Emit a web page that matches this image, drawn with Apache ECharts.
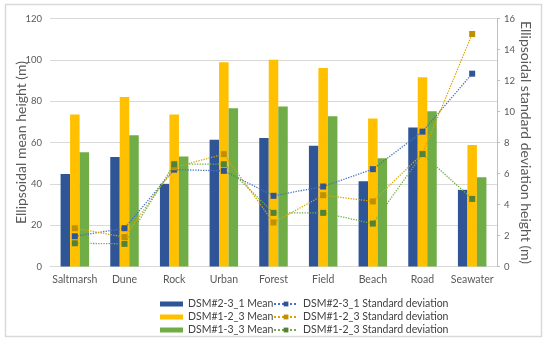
<!DOCTYPE html>
<html><head><meta charset="utf-8">
<script src="https://cdn.jsdelivr.net/npm/echarts@6/dist/echarts.min.js"></script>
<style>html,body{margin:0;padding:0;background:#fff}#c{width:550px;height:345px}</style>
</head><body><div id="c"></div>
<script>
const categories = ['Saltmarsh','Dune','Rock','Urban','Forest','Field','Beach','Road','Seawater'];
const meanA = [44.8, 53, 40, 61.3, 62.2, 58.4, 41.3, 67.2, 37.1];   // DSM#2-3_1 Mean
const meanB = [73.5, 82, 73.5, 98.8, 100, 96, 71.6, 91.6, 58.8];    // DSM#1-2_3 Mean
const meanC = [55.3, 63.5, 53.2, 76.6, 77.4, 72.7, 52.4, 75.1, 43.2]; // DSM#1-3_3 Mean
const sdA = [1.95, 2.47, 6.25, 6.17, 4.56, 5.16, 6.28, 8.7, 12.44];
const sdB = [2.47, 1.9, 6.4, 7.25, 2.84, 4.6, 4.2, 7.27, 15.0];
const sdC = [1.5, 1.46, 6.6, 6.6, 3.46, 3.46, 2.77, 7.25, 4.36];
const leftTicks = {min: 0, max: 120, interval: 20};
const rightTicks = {min: 0, max: 16, interval: 2};

const FONT = 'Lato';
const chart = echarts.init(document.getElementById('c'));
const barNames = ['DSM#2-3_1 Mean','DSM#1-2_3 Mean','DSM#1-3_3 Mean'];
const lineNames = ['DSM#2-3_1 Standard deviation','DSM#1-2_3 Standard deviation','DSM#1-3_3 Standard deviation'];
const barColors = ['#2F5597','#FFC000','#70AD47'];
const lineColors = ['#4472C4','#D9A400','#70AD47'];
const markColors = ['#2F5597','#BF9000','#548235'];
const means = [meanA, meanB, meanC];
const sds = [sdA, sdB, sdC];
const series = [];
means.forEach((d,i)=>series.push({
  name: barNames[i], type:'bar', data:d, barWidth:9.5, barGap:'0%',
  itemStyle:{color:barColors[i]}
}));
sds.forEach((d,i)=>series.push({
  name: lineNames[i], type:'line', yAxisIndex:1, data:d, z:5,
  symbol:'rect', symbolSize:6,
  lineStyle:{type:'dotted', width:1.3, color:lineColors[i]},
  itemStyle:{color:markColors[i]}
}));
const labelFmt = n => n === 'DSM#1-3_3 Standard deviation' ? 'DSM#1-2_3 Standard deviation' : n;
const legText = {fontSize:10.5, color:'#404040', fontFamily:FONT, lineHeight:12};
chart.setOption({
  animation:false,
  textStyle:{fontFamily:FONT},
  grid:{left:50, right:53, top:18.5, bottom:78.5},
  graphic:[{type:'rect', shape:{x:5.5,y:4.5,width:536,height:332}, style:{fill:'none', stroke:'#d9d9d9', lineWidth:1.5}, silent:true}],
  legend:[
    {data:barNames, orient:'vertical', left:160, top:298, height:60, itemWidth:23, itemHeight:5, itemGap:1, padding:0,
     textStyle:legText, icon:'rect'},
    {data:lineNames, orient:'vertical', left:273, top:298, height:60, itemWidth:24, itemHeight:6, itemGap:1, padding:0,
     textStyle:legText, formatter:labelFmt}
  ],
  xAxis:{type:'category', data:categories,
    axisLine:{lineStyle:{color:'#d9d9d9'}}, axisTick:{show:false},
    axisLabel:{fontSize:10.5, color:'#595959', margin:8, interval:0}},
  yAxis:[
    {type:'value', min:leftTicks.min, max:leftTicks.max, interval:leftTicks.interval,
     name:'Ellipsoidal mean height (m)', nameLocation:'middle', nameGap:22, nameRotate:90, nameMoveOverlap:false,
     nameTextStyle:{fontSize:14, color:'#595959'},
     axisLabel:{fontSize:9.5, color:'#595959', margin:8},
     axisLine:{show:false}, axisTick:{show:false},
     splitLine:{lineStyle:{color:'#d9d9d9'}}},
    {type:'value', min:rightTicks.min, max:rightTicks.max, interval:rightTicks.interval, position:'right',
     name:'Ellipsoidal standard deviation height (m)', nameLocation:'middle', nameGap:22, nameRotate:-90, nameMoveOverlap:false,
     nameTextStyle:{fontSize:14, color:'#595959'},
     axisLabel:{fontSize:9.5, color:'#595959', margin:7},
     axisLine:{show:true, lineStyle:{color:'#bfbfbf'}}, axisTick:{show:true, length:3, lineStyle:{color:'#bfbfbf'}},
     splitLine:{show:false}}
  ],
  series
});
</script></body></html>
